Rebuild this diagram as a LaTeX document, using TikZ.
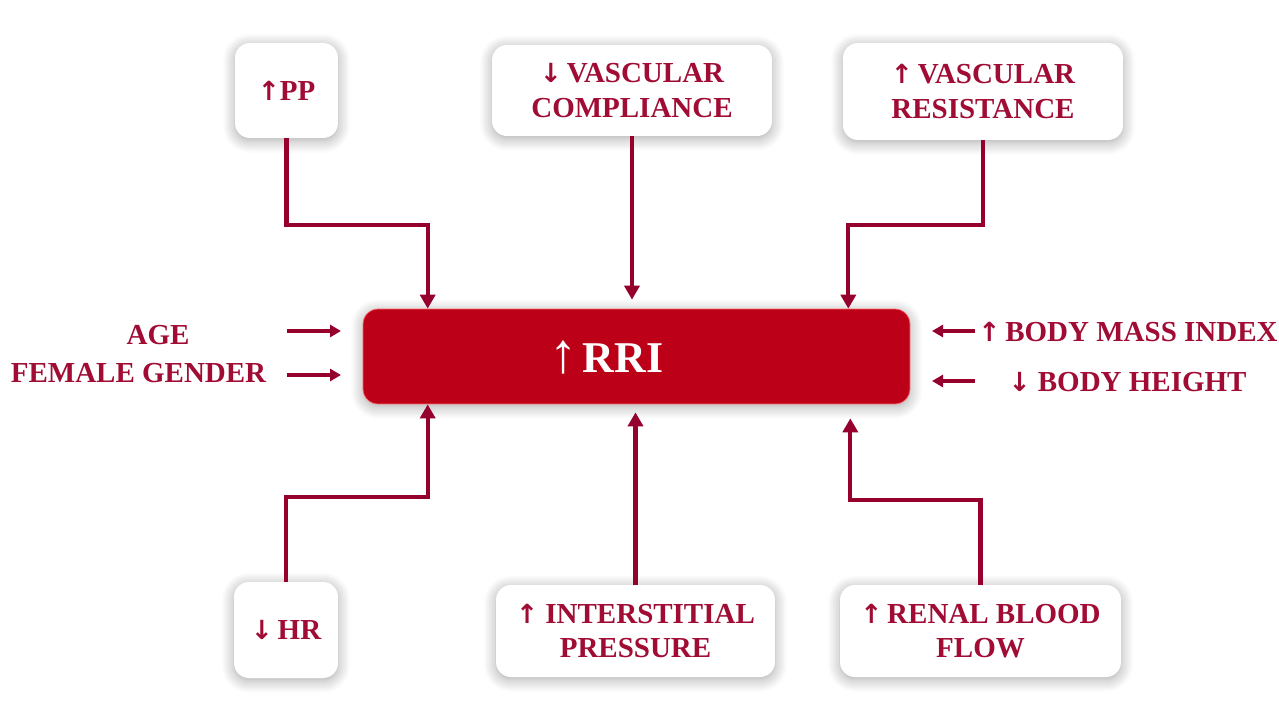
\documentclass[tikz,border=0pt]{standalone}
\usepackage{fontspec}
\setmainfont{Liberation Serif}
\newfontfamily\arrowfont{DejaVu Sans}
\usetikzlibrary{positioning,arrows.meta,shadows.blur}
\definecolor{rrired}{RGB}{188,0,24}
\definecolor{rritext}{RGB}{160,12,52}
\definecolor{rriline}{RGB}{150,0,45}
\newcommand\arrUp{{\arrowfont\bfseries\fontsize{15}{15}\selectfont ↑}}
\newcommand\arrDown{{\arrowfont\bfseries\fontsize{15}{15}\selectfont ↓}}

\begin{document}
\begin{tikzpicture}[x=0.02cm, y=-0.02cm, every node/.style={font=\fontsize{16.5}{19.5}\selectfont\bfseries}]
  \tikzset{
    factor/.style={fill=white, rounded corners=0.3cm, align=center, text=rritext,
      blur shadow={shadow blur steps=8, shadow xshift=0pt, shadow yshift=-1.5pt, shadow opacity=35, shadow blur radius=7pt}},
    sidetext/.style={text=rritext, align=center},
    link/.style={draw=rriline, line width=2.3pt, -{Triangle[width=0.3cm,length=0.28cm]}},
    sidelink/.style={draw=rriline, line width=1.8pt, -{Triangle[width=0.24cm,length=0.22cm]}}
  }
  \useasboundingbox (0,0) rectangle (1279,711);

  % Top row
  \node[factor, minimum width=2.06cm, minimum height=1.9cm]  (bPP)  at (286.5,90.5) {\arrUp PP};
  \node[factor, minimum width=5.6cm, minimum height=1.82cm]  (bComp) at (632,90.5) {\arrDown\,VASCULAR\\COMPLIANCE};
  \node[factor, minimum width=5.6cm, minimum height=1.94cm]  (bRes)  at (983,91.5) {\arrUp\,VASCULAR\\RESISTANCE};

  % Middle row
  \node[factor, fill=rrired, draw=red!60!white, thin, minimum width=10.94cm, minimum height=1.9cm] (bRRI) at (636.5,356.5) {};
  \node[text=white, anchor=center, xshift=-0.6cm, yshift=-0.02cm] (tRRI) at (bRRI.center)
       {{\fontsize{32}{32}\selectfont ↑}\,{\fontsize{25}{28}\selectfont RRI}};
  \node[sidetext] (tAge)    at (158,335) {AGE};
  \node[sidetext] (tGender) at (138.5,373) {FEMALE GENDER};
  \node[sidetext] (tBMI)    at (1128,332) {\arrUp\,BODY MASS INDEX};
  \node[sidetext] (tHeight) at (1127.5,382) {\arrDown\ BODY HEIGHT};

  % Bottom row
  \node[factor, minimum width=2.08cm, minimum height=1.92cm] (bHR)  at (286,630) {\arrDown\,HR};
  \node[factor, minimum width=5.58cm, minimum height=1.84cm] (bInt) at (635.5,631) {\arrUp\ INTERSTITIAL\\PRESSURE};
  \node[factor, minimum width=5.62cm, minimum height=1.84cm] (bRBF) at (980.5,631) {\arrUp\,RENAL BLOOD\\FLOW};

  % side arrow ends
  \coordinate (ageA)    at (287,331);  \coordinate (ageB)    at (341,331);
  \coordinate (genderA) at (287,375);  \coordinate (genderB) at (341,375);
  \coordinate (bmiA)    at (975,331);  \coordinate (bmiB)    at (932,331);
  \coordinate (heightA) at (975,381);  \coordinate (heightB) at (932,381);

  % Connectors
  \draw[link] (bPP.south) -- ++(0,87) -| ([xshift=1.3cm]bRRI.north west);
  \draw[link, shorten >=0.18cm] (bComp.south) -- (bComp.south |- bRRI.north);
  \draw[link] (bRes.south) -- ++(0,85) -| ([xshift=-1.24cm]bRRI.north east);
  \draw[link] (bHR.north) -- ++(0,-85) -| ([xshift=1.3cm]bRRI.south west);
  \draw[link, shorten >=0.16cm] (bInt.north) -- (bInt.north |- bRRI.south);
  \draw[link, shorten >=0.28cm] (bRBF.north) -- ++(0,-85) -| ([xshift=-1.2cm]bRRI.south east);

  \draw[sidelink] (ageA) -- (ageB);
  \draw[sidelink] (genderA) -- (genderB);
  \draw[sidelink] (bmiA) -- (bmiB);
  \draw[sidelink] (heightA) -- (heightB);
\end{tikzpicture}
\end{document}
